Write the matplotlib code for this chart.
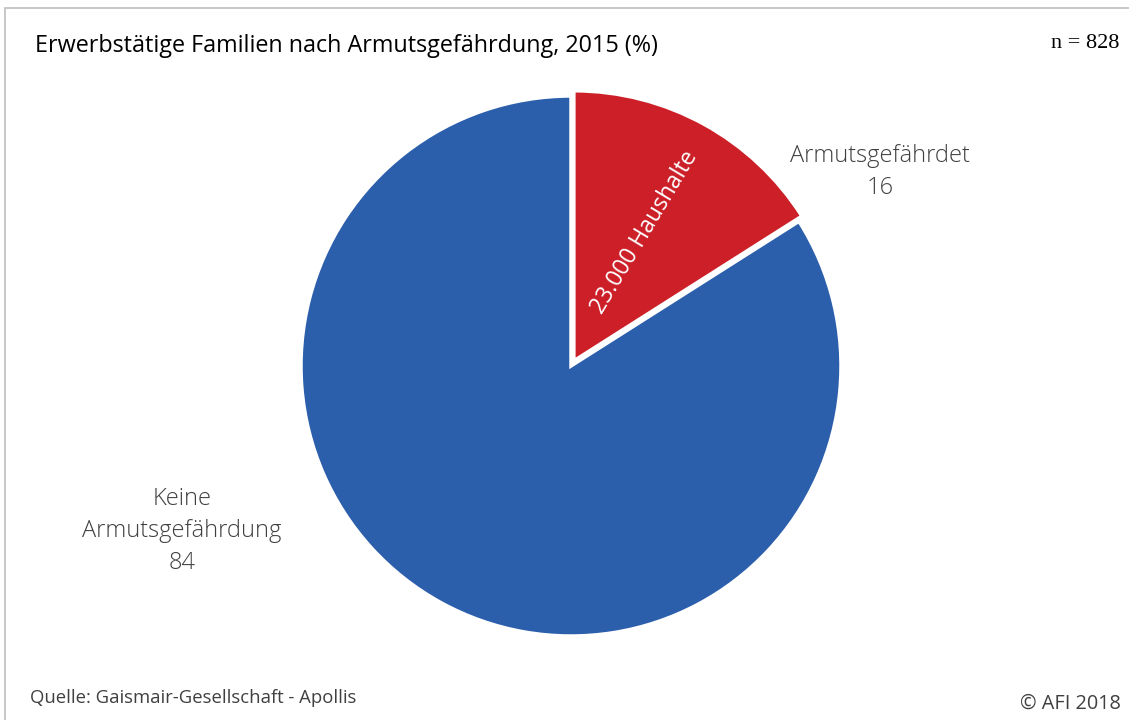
import matplotlib.pyplot as plt
from matplotlib.patches import Rectangle

# data
categories = ["Armutsgefährdet", "Keine\nArmutsgefährdung"]
values = [16, 84]
colors = ["#CC1F28", "#2B5EAB"]
inner_label = "23.000 Haushalte"
title = "Erwerbstätige Familien nach Armutsgefährdung, 2015 (%)"
n_text = "n = 828"
source = "Quelle: Gaismair-Gesellschaft - Apollis"
copyright_text = "© AFI 2018"

W, H = 1129, 720
fig = plt.figure(figsize=(W / 100, H / 100), dpi=100)
plt.rcParams['font.family'] = ['Open Sans', 'DejaVu Sans']

# frame around chart
fig.add_artist(Rectangle((5 / W, -0.01), 1.2, (H - 8) / H + 0.01, transform=fig.transFigure,
                         fill=False, edgecolor="#BFBFBF", linewidth=1.2))

# pie axes: centre (571, 366), radius 270 px
cx, cy, r = 571, H - 366, 270
lim = 1.05
half = r * lim
ax = fig.add_axes([(cx - half) / W, (cy - half) / H, 2 * half / W, 2 * half / H])
wedges, _ = ax.pie(values, colors=colors, startangle=90, counterclock=False,
                   explode=[0.022, 0], radius=1,
                   wedgeprops=dict(edgecolor="white", linewidth=2.5))
for w in wedges:
    w.set_clip_on(False)
ax.set_xlim(-lim, lim)
ax.set_ylim(-lim, lim)
ax.set_aspect("equal")
ax.axis("off")

def px(x, y):
    return ((x - cx) / r, ((H - y) - cy) / r)

# outside labels
x, y = px(880, 172)
ax.text(x, y, f"{categories[0]}\n{values[0]}", ha="center", va="center",
        fontsize=17, color="#404040", linespacing=1.45, fontweight="light")
x, y = px(182, 531)
ax.text(x, y, f"{categories[1]}\n{values[1]}", ha="center", va="center",
        fontsize=17, color="#404040", linespacing=1.45, fontweight="light")

# inner label
x, y = px(645, 232)
ax.text(x, y, inner_label, ha="center", va="center", rotation=59,
        rotation_mode="anchor", fontsize=16.5, color="white")

fig.text(35 / W, 1 - 46 / H, title, ha="left", va="center", fontsize=16.8, color="black")
fig.text(1119 / W, 1 - 44 / H, n_text, ha="right", va="center", fontsize=16,
         family=["Liberation Serif", "DejaVu Serif"], color="black")
fig.text(30 / W, 1 - 698 / H, source, ha="left", va="center", fontsize=13.3, color="#404040")
fig.text(1121 / W, 1 - 704 / H, copyright_text, ha="right", va="center", fontsize=14.3, color="#404040")

fig.savefig("out.png", dpi=100)
